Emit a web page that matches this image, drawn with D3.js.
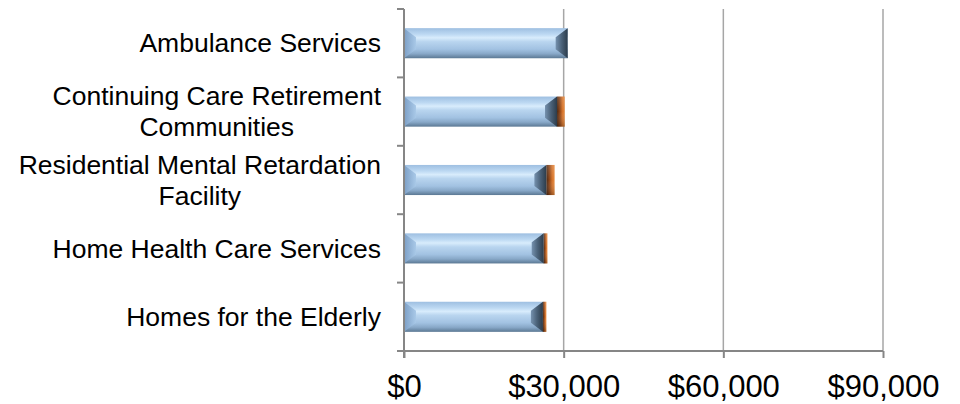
<!DOCTYPE html>
<html>
<head>
<meta charset="utf-8">
<script src="https://cdn.jsdelivr.net/npm/d3@7"></script>
<style>
  html, body { margin: 0; padding: 0; background: #fff; }
  svg { display: block; }
  text { font-family: "Liberation Sans", Arial, sans-serif; fill: #000; }
</style>
</head>
<body>
<svg id="chart" width="960" height="404"></svg>
<script>
const categories = [
  "Ambulance Services",
  "Continuing Care Retirement Communities",
  "Residential Mental Retardation Facility",
  "Home Health Care Services",
  "Homes for the Elderly"
];
const baseValues  = [30750, 28750, 26750, 26250, 26100];
const extraValues = [0, 1450, 1550, 700, 650];
const tickValues  = [0, 30000, 60000, 90000];

const svg = d3.select("#chart");
const plot = { left: 404, right: 883, top: 9, bottom: 351 };

const x = d3.scaleLinear().domain([0, 90000]).range([plot.left, plot.right]);
const y = d3.scaleBand().domain(categories).range([plot.top, plot.bottom])
  .paddingInner(0.56).paddingOuter(0.28);

const defs = svg.append("defs");
function lg(id, x1, y1, x2, y2, stops) {
  const g = defs.append("linearGradient").attr("id", id)
    .attr("x1", x1).attr("y1", y1).attr("x2", x2).attr("y2", y2);
  stops.forEach(s => g.append("stop").attr("offset", s[0]).attr("stop-color", s[1])
    .attr("stop-opacity", s[2] == null ? 1 : s[2]));
}
lg("blueBody", 0, 0, 0, 1, [[0, "#9ebfe1"], [0.2, "#bcd8f2"], [0.32, "#d8ecfc"], [0.45, "#b9d5ef"],
  [0.7, "#a2c2e2"], [0.85, "#88a8c8"], [1, "#5b7893"]]);
lg("blueLeft", 0, 0, 1, 0, [[0, "#7c9fc6"], [1, "#a9c9e8"]]);
lg("blueRight", 0, 0, 1, 0, [[0, "#7591ae"], [0.5, "#4b6279"], [1, "#2c3c4b"]]);
lg("orange", 0, 0, 1, 0, [[0, "#4a2814"], [0.35, "#8a4316"], [0.7, "#d4722a"], [1, "#e88c40"]]);
lg("orangeShade", 0, 0, 0, 1, [[0, "#ffffff", 0.15], [0.5, "#ffffff", 0], [1, "#000000", 0.25]]);

// gridlines
svg.append("g").selectAll("line").data(tickValues.filter(v => v > 0)).join("line")
  .attr("x1", d => x(d)).attr("x2", d => x(d))
  .attr("y1", plot.top).attr("y2", plot.bottom)
  .attr("stroke", "#a6a6a6").attr("stroke-width", 1.5);

// bars
const bars = svg.append("g");
categories.forEach((c, i) => {
  const y0 = y(c), h = y.bandwidth(), y1 = y0 + h;
  const x0 = x(0), x1 = x(baseValues[i]);
  const bx = 12, by = 9;
  const g = bars.append("g");
  g.append("rect").attr("x", x0).attr("y", y0).attr("width", x1 - x0).attr("height", h)
    .attr("fill", "url(#blueBody)");
  g.append("polygon")
    .attr("points", [[x0, y0], [x0 + bx, y0 + by], [x0 + bx, y1 - by], [x0, y1]].join(" "))
    .attr("fill", "url(#blueLeft)");
  g.append("polygon")
    .attr("points", [[x1, y0], [x1 - bx, y0 + by], [x1 - bx, y1 - by], [x1, y1]].join(" "))
    .attr("fill", "url(#blueRight)");
  if (extraValues[i] > 0) {
    const xe = x(baseValues[i] + extraValues[i]);
    g.append("rect").attr("x", x1).attr("y", y0).attr("width", xe - x1).attr("height", h)
      .attr("fill", "url(#orange)");
    g.append("rect").attr("x", x1).attr("y", y0).attr("width", xe - x1).attr("height", h)
      .attr("fill", "url(#orangeShade)");
  }
});

// y axis
const axisColor = "#868686";
svg.append("line").attr("x1", plot.left).attr("x2", plot.left)
  .attr("y1", plot.top).attr("y2", plot.bottom + 7)
  .attr("stroke", axisColor).attr("stroke-width", 2);
const boundaries = categories.map(c => y(c) - y.step() * y.paddingInner() / 2)
  .concat([plot.bottom]);
svg.append("g").selectAll("line").data(boundaries).join("line")
  .attr("x1", plot.left - 7).attr("x2", plot.left)
  .attr("y1", d => d).attr("y2", d => d)
  .attr("stroke", axisColor).attr("stroke-width", 2);

// x axis
const xAxis = svg.append("g").attr("transform", `translate(0,${plot.bottom})`)
  .call(d3.axisBottom(x).tickValues(tickValues).tickSize(7).tickSizeOuter(0)
    .tickFormat(d3.format("$,.0f")));
xAxis.select(".domain").attr("stroke", axisColor).attr("stroke-width", 2)
  .attr("d", `M${plot.left - 7},0H${plot.right}`);
xAxis.selectAll(".tick line").attr("stroke", axisColor).attr("stroke-width", 2);
xAxis.selectAll(".tick text").attr("y", 46).attr("dy", 0)
  .style("font-family", '"Liberation Sans", Arial, sans-serif')
  .style("font-size", "31px").attr("fill", "#000");

// category labels: wrapped, block right-aligned, lines centred within block
const labelG = svg.append("g");
const maxW = 372, fs = 26.5, lh = 31, rightX = 381;
categories.forEach(c => {
  const words = c.split(" ");
  const t = labelG.append("text").attr("text-anchor", "middle").style("font-size", fs + "px");
  const probe = t.append("tspan");
  const width = s => { probe.text(s); return probe.node().getComputedTextLength(); };
  let lines = [], cur = [];
  words.forEach(w => {
    const test = cur.concat([w]).join(" ");
    if (width(test) > maxW && cur.length) { lines.push(cur.join(" ")); cur = [w]; }
    else cur.push(w);
  });
  lines.push(cur.join(" "));
  const blockW = d3.max(lines, width);
  probe.remove();
  const cx = rightX - blockW / 2;
  const cy = y(c) + y.bandwidth() / 2;
  const startY = cy - (lines.length - 1) * lh / 2 + fs * 0.35;
  lines.forEach((ln, k) => {
    t.append("tspan").attr("x", cx).attr("y", startY + k * lh).text(ln);
  });
});
</script>
</body>
</html>
